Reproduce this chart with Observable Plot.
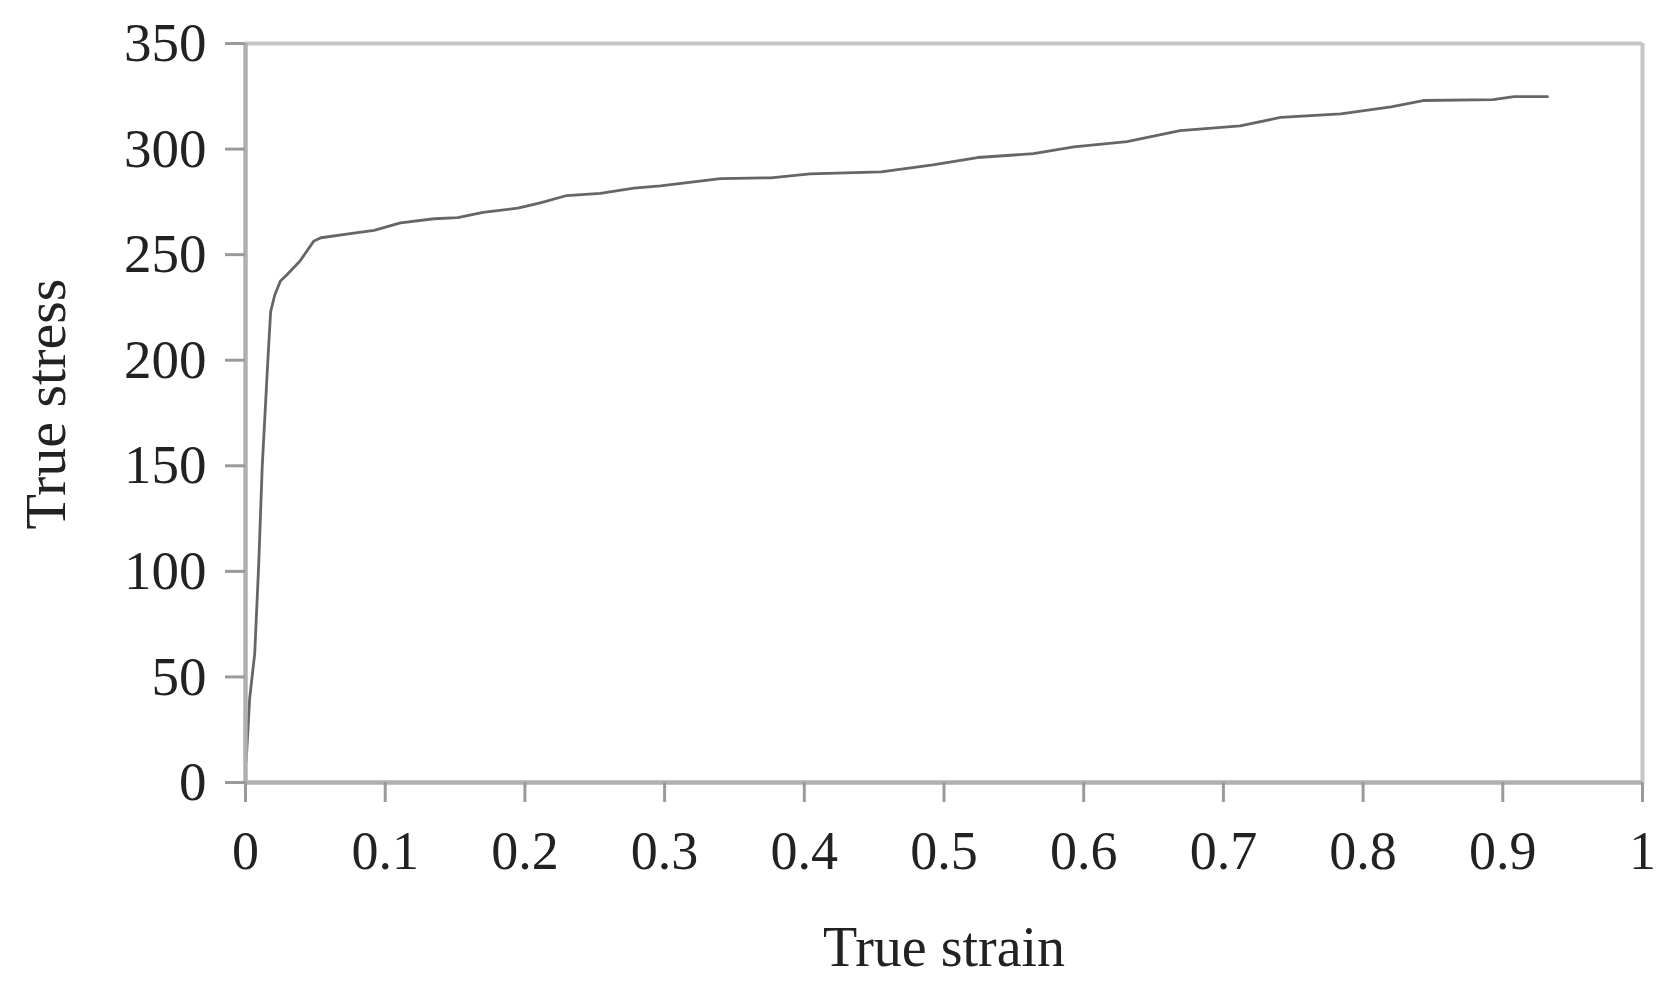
<!DOCTYPE html>
<html><head><meta charset="utf-8">
<script src="https://cdn.jsdelivr.net/npm/d3@7"></script>
<script src="https://cdn.jsdelivr.net/npm/@observablehq/plot@0.6"></script>
<style>html,body{margin:0;padding:0;background:#fff} svg{display:block}</style>
</head><body><div id="chart"></div>
<script>
const strain = [0.0005, 0.003, 0.0066, 0.0095, 0.012, 0.016, 0.018, 0.021, 0.025, 0.029, 0.039, 0.049, 0.054, 0.075, 0.092, 0.111, 0.135, 0.152, 0.170, 0.195, 0.211, 0.230, 0.254, 0.278, 0.297, 0.340, 0.376, 0.404, 0.455, 0.492, 0.524, 0.564, 0.593, 0.631, 0.669, 0.712, 0.741, 0.784, 0.820, 0.843, 0.893, 0.908, 0.932];
const stress = [10, 40, 61, 104, 150, 200, 223, 231, 237.5, 240, 247, 256.5, 258, 260, 261.5, 265, 267, 267.5, 270, 272, 274.5, 278, 279, 281.5, 282.6, 286, 286.4, 288.3, 289.2, 292.5, 296, 297.8, 301, 303.5, 308.7, 311, 315, 316.7, 320, 323, 323.4, 324.8, 324.8];
const xTicks = [0, 0.1, 0.2, 0.3, 0.4, 0.5, 0.6, 0.7, 0.8, 0.9, 1];
const xTickLabels = ["0", "0.1", "0.2", "0.3", "0.4", "0.5", "0.6", "0.7", "0.8", "0.9", "1"];
const yTicks = [0, 50, 100, 150, 200, 250, 300, 350];
const yTickLabels = ["0", "50", "100", "150", "200", "250", "300", "350"];
const xLabel = "True strain";
const yLabel = "True stress";

const data = strain.map((s, i) => ({strain: s, stress: stress[i]}));

const chart = Plot.plot({
  width: 1671,
  height: 996,
  marginLeft: 245,
  marginRight: 29,
  marginTop: 43,
  marginBottom: 214,
  style: {fontFamily: "'Liberation Serif', 'Times New Roman', serif", background: "#fff", color: "#222"},
  x: {domain: [0, 1]},
  y: {domain: [0, 350]},
  marks: [
    Plot.ruleY([350], {stroke: "#c6c6c6", strokeWidth: 4}),
    Plot.ruleX([1], {stroke: "#c6c6c6", strokeWidth: 4}),
    Plot.line(data, {x: "strain", y: "stress", stroke: "#666", strokeWidth: 2.8, curve: "linear"}),
    Plot.ruleY([0], {stroke: "#b0b0b0", strokeWidth: 4.5}),
    Plot.ruleX([0], {stroke: "#b0b0b0", strokeWidth: 4.5}),
    Plot.axisX({ticks: xTicks, tickFormat: d => xTickLabels[xTicks.indexOf(d)], tickSize: 20, tickPadding: 28, fontSize: 54, stroke: "#9a9a9a", strokeWidth: 3, fill: "#222", label: null}),
    Plot.axisY({ticks: yTicks, tickFormat: d => yTickLabels[yTicks.indexOf(d)], tickSize: 20, tickPadding: 19, fontSize: 55, stroke: "#9a9a9a", strokeWidth: 3, fill: "#222", label: null}),
    Plot.text([xLabel], {frameAnchor: "bottom", dy: 166, text: d => d, fontSize: 56, fill: "#222", lineAnchor: "middle", textAnchor: "middle"}),
    Plot.text([yLabel], {frameAnchor: "left", dx: -199, dy: -9, rotate: -90, text: d => d, fontSize: 58, fill: "#222", lineAnchor: "middle", textAnchor: "middle"})
  ]
});
document.getElementById("chart").appendChild(chart);
</script>
</body></html>
